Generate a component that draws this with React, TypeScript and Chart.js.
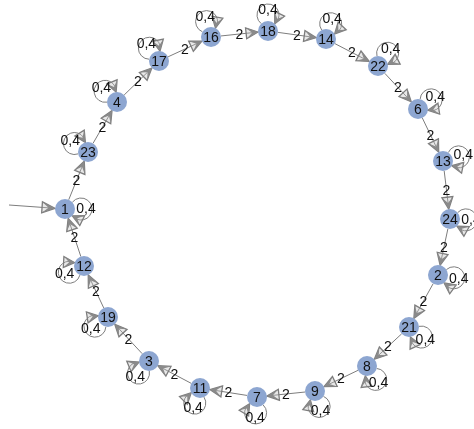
import React, { useEffect, useRef } from "react";
import { Chart, registerables } from "chart.js";

Chart.register(...registerables);

// Graph layout (layout units; plotted through the chart's linear scales)
const nodeNames = ["1", "23", "4", "17", "16", "18", "14", "22", "6", "13", "24", "2", "21", "8", "9", "7", "11", "3", "19", "12"];
const nodeX = [65, 88, 117, 159, 211, 268, 326, 378, 418, 443, 450, 438, 409, 367, 315, 257, 200, 149, 108, 84];
const nodeY = [209, 152, 102, 61, 37, 31, 39, 66, 109, 161, 219, 275, 327, 366, 391, 397, 388, 361, 317, 266];
// direction (degrees, screen orientation) in which each self-loop sits
const loopAngle = [0, 212, 222, 233, 254, 270, 287, 307, 325, 345, 3, 10, 39, 57, 75, 95, 109, 131, 145, 157];
const loopLabel = "0,4";

// directed edges between nodes
const edgeFrom = ["1", "23", "4", "17", "16", "18", "14", "22", "6", "13", "24", "2", "21", "8", "9", "7", "11", "3", "19", "12"];
const edgeTo = ["23", "4", "17", "16", "18", "14", "22", "6", "13", "24", "2", "21", "8", "9", "7", "11", "3", "19", "12", "1"];
const edgeWeight = ["2", "2", "2", "2", "2", "2", "2", "2", "2", "2", "2", "2", "2", "2", "2", "2", "2", "2", "2", "2"];

// initial-state arrow start (layout units) pointing at node "1"
const initialStart = [9, 205];
const initialNode = "1";

const NODE_R = 10;
const EDGE_COLOR = "#7d7d7d";
const NODE_COLOR = "#8da6d1";
const FONT = '14px "Liberation Sans", Arial, sans-serif';

function arrowHead(ctx: CanvasRenderingContext2D, tx: number, ty: number, dx: number, dy: number, L = 12, W = 5.5) {
  const bx = tx - L * dx, by = ty - L * dy;
  const nx = -dy, ny = dx;
  const p1x = bx + W * nx, p1y = by + W * ny;
  const p2x = bx - W * nx, p2y = by - W * ny;
  const mx = tx - 0.5 * L * dx, my = ty - 0.5 * L * dy;
  ctx.save();
  ctx.beginPath();
  ctx.moveTo(tx, ty);
  ctx.lineTo(p1x, p1y);
  ctx.lineTo(p2x, p2y);
  ctx.closePath();
  ctx.fillStyle = "rgba(190,190,190,0.35)";
  ctx.fill();
  ctx.strokeStyle = EDGE_COLOR;
  ctx.lineWidth = 1.3;
  ctx.lineJoin = "miter";
  ctx.stroke();
  ctx.beginPath();
  ctx.moveTo(tx, ty);
  ctx.lineTo(p1x, p1y);
  ctx.lineTo(mx, my);
  ctx.lineTo(p2x, p2y);
  ctx.closePath();
  ctx.fillStyle = "#8a8a8a";
  ctx.fill();
  ctx.restore();
}

const graphPlugin = {
  id: "graphEdges",
  beforeDatasetsDraw(chart: any) {
    const ctx: CanvasRenderingContext2D = chart.ctx;
    const xs = chart.scales.x, ys = chart.scales.y;
    const pos = (name: string) => {
      const i = nodeNames.indexOf(name);
      return [xs.getPixelForValue(nodeX[i]), ys.getPixelForValue(nodeY[i])];
    };
    ctx.save();
    ctx.strokeStyle = EDGE_COLOR;
    ctx.lineWidth = 1;
    // edges
    for (let k = 0; k < edgeFrom.length; k++) {
      const [ax, ay] = pos(edgeFrom[k]);
      const [bx, by] = pos(edgeTo[k]);
      const len = Math.hypot(bx - ax, by - ay);
      const dx = (bx - ax) / len, dy = (by - ay) / len;
      const sx = ax + NODE_R * dx, sy = ay + NODE_R * dy;
      const tx = bx - NODE_R * dx, ty = by - NODE_R * dy;
      ctx.beginPath();
      ctx.moveTo(sx, sy);
      ctx.lineTo(tx - 6 * dx, ty - 6 * dy);
      ctx.stroke();
      arrowHead(ctx, tx, ty, dx, dy);
    }
    // self loops
    const D = 16, RL = 11;
    const phi = Math.acos((D * D + RL * RL - NODE_R * NODE_R) / (2 * D * RL));
    for (let i = 0; i < nodeNames.length; i++) {
      const px = xs.getPixelForValue(nodeX[i]), py = ys.getPixelForValue(nodeY[i]);
      const a = (loopAngle[i] * Math.PI) / 180;
      const cx = px + D * Math.cos(a), cy = py + D * Math.sin(a);
      const ts = a + Math.PI + phi;
      const te = a + Math.PI - phi + 2 * Math.PI;
      ctx.beginPath();
      ctx.arc(cx, cy, RL, ts, te - 0.5, false);
      ctx.strokeStyle = EDGE_COLOR;
      ctx.lineWidth = 1;
      ctx.stroke();
      const ex = cx + RL * Math.cos(te), ey = cy + RL * Math.sin(te);
      const bt = te - 0.9;
      const bxp = cx + RL * Math.cos(bt), byp = cy + RL * Math.sin(bt);
      const l = Math.hypot(ex - bxp, ey - byp);
      arrowHead(ctx, ex, ey, (ex - bxp) / l, (ey - byp) / l, 11, 5.5);
    }
    // initial arrow
    {
      const sx = xs.getPixelForValue(initialStart[0]), sy = ys.getPixelForValue(initialStart[1]);
      const [bx, by] = pos(initialNode);
      const len = Math.hypot(bx - sx, by - sy);
      const dx = (bx - sx) / len, dy = (by - sy) / len;
      const tx = bx - NODE_R * dx, ty = by - NODE_R * dy;
      ctx.beginPath();
      ctx.moveTo(sx, sy);
      ctx.lineTo(tx - 6 * dx, ty - 6 * dy);
      ctx.strokeStyle = EDGE_COLOR;
      ctx.lineWidth = 1;
      ctx.stroke();
      arrowHead(ctx, tx, ty, dx, dy, 13, 5.5);
    }
    ctx.restore();
  },
  afterDatasetsDraw(chart: any) {
    const ctx: CanvasRenderingContext2D = chart.ctx;
    const xs = chart.scales.x, ys = chart.scales.y;
    const pos = (name: string) => {
      const i = nodeNames.indexOf(name);
      return [xs.getPixelForValue(nodeX[i]), ys.getPixelForValue(nodeY[i])];
    };
    ctx.save();
    ctx.font = FONT;
    ctx.fillStyle = "#111";
    ctx.textAlign = "center";
    ctx.textBaseline = "middle";
    for (let i = 0; i < nodeNames.length; i++) {
      const px = xs.getPixelForValue(nodeX[i]), py = ys.getPixelForValue(nodeY[i]);
      ctx.fillText(nodeNames[i], px, py + 1);
      const a = (loopAngle[i] * Math.PI) / 180;
      ctx.fillText(loopLabel, px + 21 * Math.cos(a), py + 21 * Math.sin(a));
    }
    for (let k = 0; k < edgeFrom.length; k++) {
      const [ax, ay] = pos(edgeFrom[k]);
      const [bx, by] = pos(edgeTo[k]);
      ctx.fillText(edgeWeight[k], (ax + bx) / 2, (ay + by) / 2 + 1);
    }
    ctx.restore();
  },
};

export default function App() {
  const ref = useRef<HTMLCanvasElement | null>(null);
  useEffect(() => {
    if (!ref.current) return;
    const chart = new Chart(ref.current, {
      type: "scatter",
      data: {
        datasets: [
          {
            data: nodeNames.map((_, i) => ({ x: nodeX[i], y: nodeY[i] })),
            pointRadius: NODE_R,
            pointHoverRadius: NODE_R,
            backgroundColor: NODE_COLOR,
            borderWidth: 0,
            clip: false as any,
          },
        ],
      },
      options: {
        animation: false,
        responsive: true,
        maintainAspectRatio: false,
        layout: { padding: 0, autoPadding: false } as any,
        plugins: { legend: { display: false }, tooltip: { enabled: false } },
        events: [],
        scales: {
          x: { type: "linear", min: 0, max: 474, display: false },
          y: { type: "linear", min: 0, max: 429, reverse: true, display: false },
        },
      },
      plugins: [graphPlugin],
    });
    return () => chart.destroy();
  }, []);
  return (
    <div style={{ position: "absolute", left: 0, top: 0, width: 474, height: 429, background: "#fff" }}>
      <canvas ref={ref} />
    </div>
  );
}
